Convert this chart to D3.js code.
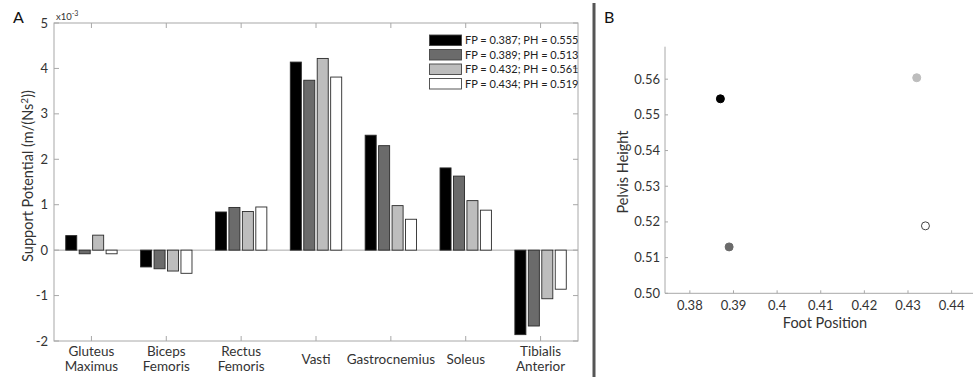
<!DOCTYPE html>
<html><head><meta charset="utf-8">
<script src="https://cdn.jsdelivr.net/npm/d3@7"></script>
<style>
body{margin:0;background:#fff;}
svg{display:block;font-family:Lato, "Open Sans", sans-serif;}
</style></head>
<body><svg id="c" width="980" height="377"></svg>
<script>
// ---------- data ----------
const muscles = [["Gluteus","Maximus"],["Biceps","Femoris"],["Rectus","Femoris"],["Vasti"],["Gastrocnemius"],["Soleus"],["Tibialis","Anterior"]];
const seriesLabels = ["FP = 0.387; PH = 0.555","FP = 0.389; PH = 0.513","FP = 0.432; PH = 0.561","FP = 0.434; PH = 0.519"];
// support potential values (x10^-3)
const s1 = [0.32, -0.37, 0.84, 4.14, 2.53, 1.81, -1.86];
const s2 = [-0.08, -0.41, 0.94, 3.74, 2.30, 1.63, -1.67];
const s3 = [0.33, -0.46, 0.85, 4.22, 0.98, 1.09, -1.07];
const s4 = [-0.08, -0.51, 0.95, 3.81, 0.68, 0.88, -0.86];
const yTicksA = [-2,-1,0,1,2,3,4,5];
const footPos = [0.387, 0.389, 0.432, 0.434];
const pelvisH = [0.5545, 0.513, 0.5604, 0.5189];
const xTicksB = [0.38,0.39,0.40,0.41,0.42,0.43,0.44];
const xTickLabelsB = ["0.38","0.39","0.4","0.41","0.42","0.43","0.44"];
const yTicksB = [0.50,0.51,0.52,0.53,0.54,0.55,0.56];
const yTickLabelsB = ["0.50","0.51","0.52","0.53","0.54","0.55","0.56"];
const fills = ["#000000","#6b6b6b","#bdbdbd","#ffffff"];

const svg = d3.select("#c");
const axisCol = "#a8a8a8", textCol = "#333333";

// ---------- panel A ----------
const xA = d3.scaleLinear().domain([0.5,7.5]).range([54,578]);
const yA = d3.scaleLinear().domain([-2,5]).range([341,23]);
const inner = d3.scaleBand().domain([0,1,2,3]).range([-25.7,25.7]).paddingInner(0.18).paddingOuter(0);
const series = [s1,s2,s3,s4];

const gA = svg.append("g");
gA.append("rect").attr("x",xA(0.5)).attr("y",yA(5)).attr("width",xA(7.5)-xA(0.5)).attr("height",yA(-2)-yA(5))
  .attr("fill","none").attr("stroke",axisCol).attr("stroke-width",1);
gA.append("line").attr("x1",xA(0.5)).attr("x2",xA(7.5)).attr("y1",yA(0)).attr("y2",yA(0)).attr("stroke",axisCol);
const catIdx = d3.range(1,8);
catIdx.forEach(i=>{
  gA.append("line").attr("x1",xA(i)).attr("x2",xA(i)).attr("y1",yA(-2)).attr("y2",yA(-2)-5).attr("stroke",axisCol);
  gA.append("line").attr("x1",xA(i)).attr("x2",xA(i)).attr("y1",yA(5)).attr("y2",yA(5)+5).attr("stroke",axisCol);
});
yTicksA.forEach(v=>{
  gA.append("line").attr("x1",xA(0.5)).attr("x2",xA(0.5)+5).attr("y1",yA(v)).attr("y2",yA(v)).attr("stroke",axisCol);
  gA.append("line").attr("x1",xA(7.5)).attr("x2",xA(7.5)-5).attr("y1",yA(v)).attr("y2",yA(v)).attr("stroke",axisCol);
  gA.append("text").attr("x",xA(0.5)-6).attr("y",yA(v)).attr("dy","0.35em").attr("text-anchor","end")
    .attr("font-size",13).attr("fill",textCol).text(v);
});
series.forEach((s,si)=>{
  gA.append("g").selectAll("rect").data(s).join("rect")
    .attr("x",(d,i)=>xA(i+1)+inner(si))
    .attr("width",inner.bandwidth())
    .attr("y",d=>yA(Math.max(0,d)))
    .attr("height",d=>Math.abs(yA(d)-yA(0)))
    .attr("fill",fills[si]).attr("stroke","#2a2a2a").attr("stroke-width",0.9);
});
muscles.forEach((m,i)=>{
  const t = gA.append("text").attr("x",xA(i+1)).attr("text-anchor","middle").attr("font-size",13.5).attr("fill",textCol);
  if(m.length===1){ t.attr("y",363.5).text(m[0]); }
  else {
    t.append("tspan").attr("x",xA(i+1)).attr("y",355.5).text(m[0]);
    t.append("tspan").attr("x",xA(i+1)).attr("y",371).text(m[1]);
  }
});
const yl = gA.append("text").attr("transform","translate(33,176) rotate(-90)").attr("text-anchor","middle")
  .attr("font-size",14.5).attr("fill",textCol);
yl.append("tspan").text("Support Potential (m/(Ns");
yl.append("tspan").attr("font-size",10).attr("dy",-5).text("2");
yl.append("tspan").attr("dy",5).text("))");
const mt = gA.append("text").attr("x",56).attr("y",20).attr("font-size",9.5).attr("fill",textCol);
mt.append("tspan").text("x10");
mt.append("tspan").attr("font-size",7).attr("dy",-4).text("-3");
svg.append("text").attr("x",13).attr("y",23).attr("font-size",16).attr("fill","#111").text("A");

const lg = gA.append("g");
seriesLabels.forEach((l,i)=>{
  const y = 35 + i*14.5;
  lg.append("rect").attr("x",429.5).attr("y",y).attr("width",32).attr("height",10.5)
    .attr("fill",fills[i]).attr("stroke","#444").attr("stroke-width",0.9);
  lg.append("text").attr("x",465).attr("y",y+5.5).attr("dy","0.35em").attr("font-size",11).attr("fill","#222").text(l);
});

svg.append("line").attr("x1",594).attr("x2",594).attr("y1",3).attr("y2",377).attr("stroke","#555").attr("stroke-width",3);

// ---------- panel B ----------
const xB = d3.scaleLinear().domain([0.3743,0.4449]).range([665,973]);
const yB = d3.scaleLinear().domain([0.50,0.5691]).range([293.3,46.7]);
const gB = svg.append("g");
gB.append("line").attr("x1",665).attr("x2",665).attr("y1",yB(0.5691)).attr("y2",yB(0.5)).attr("stroke",axisCol);
gB.append("line").attr("x1",665).attr("x2",973).attr("y1",yB(0.5)).attr("y2",yB(0.5)).attr("stroke",axisCol);
xTicksB.forEach((v,i)=>{
  gB.append("line").attr("x1",xB(v)).attr("x2",xB(v)).attr("y1",yB(0.5)).attr("y2",yB(0.5)-3).attr("stroke",axisCol);
  gB.append("text").attr("x",xB(v)).attr("y",305).attr("dy","0.35em").attr("text-anchor","middle")
    .attr("font-size",13).attr("fill",textCol).text(xTickLabelsB[i]);
});
yTicksB.forEach((v,i)=>{
  gB.append("line").attr("x1",665).attr("x2",668).attr("y1",yB(v)).attr("y2",yB(v)).attr("stroke",axisCol);
  gB.append("text").attr("x",660).attr("y",yB(v)).attr("dy","0.35em").attr("text-anchor","end")
    .attr("font-size",13).attr("fill",textCol).text(yTickLabelsB[i]);
});
gB.selectAll("circle").data(footPos).join("circle")
  .attr("cx",d=>xB(d)).attr("cy",(d,i)=>yB(pelvisH[i])).attr("r",4)
  .attr("fill",(d,i)=>fills[i]).attr("stroke",(d,i)=>i===3?"#444":fills[i]).attr("stroke-width",1);
gB.append("text").attr("x",825).attr("y",323).attr("dy","0.35em").attr("text-anchor","middle")
  .attr("font-size",14.5).attr("fill",textCol).text("Foot Position");
gB.append("text").attr("transform","translate(623,172) rotate(-90)").attr("dy","0.35em").attr("text-anchor","middle")
  .attr("font-size",14.5).attr("fill",textCol).text("Pelvis Height");
svg.append("text").attr("x",604).attr("y",23).attr("font-size",16).attr("fill","#111").text("B");
</script></body></html>
